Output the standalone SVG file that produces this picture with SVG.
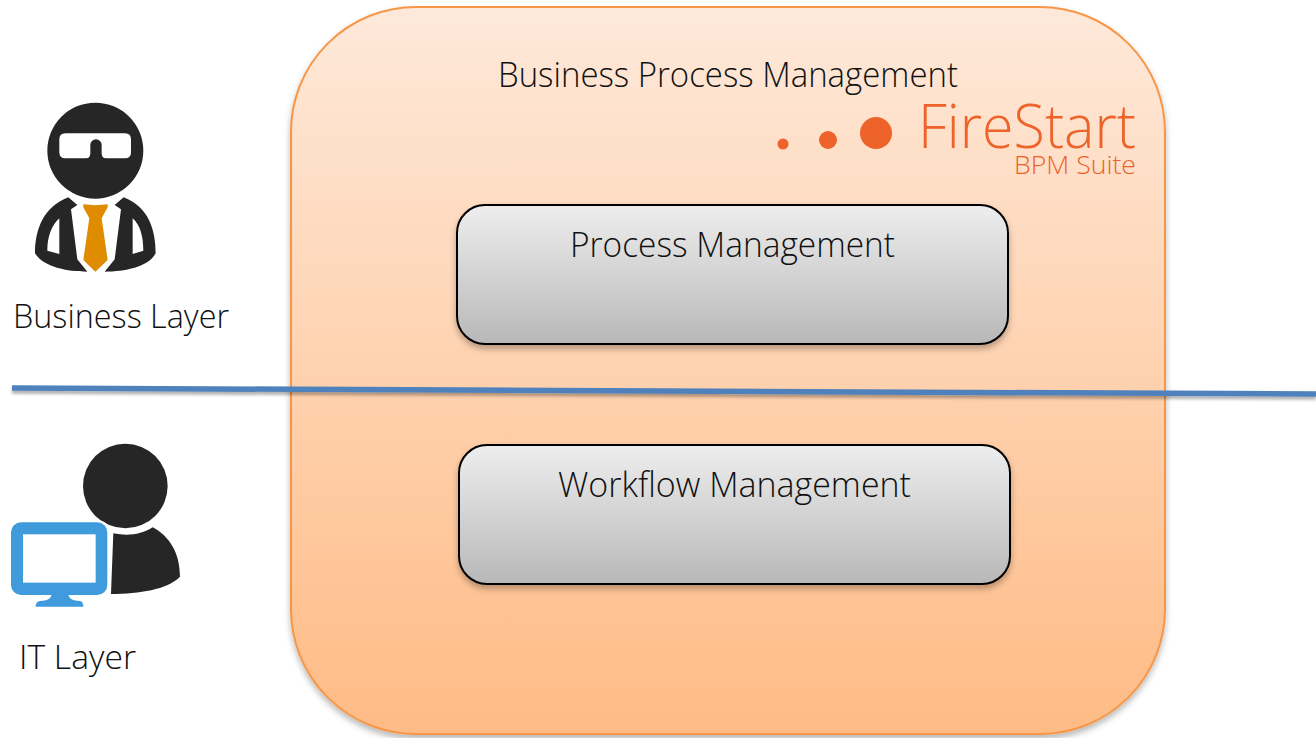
<svg xmlns="http://www.w3.org/2000/svg" width="1316" height="738" viewBox="0 0 1316 738">
<style>
text{font-family:"Open Sans","Noto Sans","Liberation Sans",sans-serif;font-weight:300;fill:#111}
.box{stroke:#000;stroke-width:2;fill:url(#g)}
.dark{fill:#262626}
.logo{fill:#ee6329}
</style>
<defs>
<linearGradient id="o" x1="0" y1="0" x2="0" y2="1"><stop offset="0" stop-color="#fee9da"/><stop offset="1" stop-color="#ffbb85"/></linearGradient>
<linearGradient id="g" x1="0" y1="0" x2="0" y2="1"><stop offset="0" stop-color="#eeeeee"/><stop offset="1" stop-color="#b8b8b8"/></linearGradient>
<filter id="s" x="-10%" y="-10%" width="120%" height="125%"><feDropShadow dx="0" dy="4" stdDeviation="3" flood-color="#000" flood-opacity=".28"/></filter>
<filter id="s2" x="-1%" y="-200%" width="102%" height="500%"><feDropShadow dx="0" dy="3" stdDeviation="1.5" flood-color="#000" flood-opacity=".3"/></filter>
</defs>
<rect width="1316" height="738" fill="#fff"/>
<g id="bpm">
<rect x="291" y="7" width="874" height="727" rx="125" fill="url(#o)" stroke="#f79646" stroke-width="2" filter="url(#s)"/>
<text x="498" y="87" font-size="35" textLength="460" lengthAdjust="spacingAndGlyphs">Business Process Management</text>
</g>
<g id="logo">
<circle class="logo" cx="783" cy="144" r="5.5"/>
<circle class="logo" cx="828" cy="140" r="9"/>
<circle class="logo" cx="876" cy="133" r="16"/>
<text x="918" y="148" font-size="60" textLength="218" lengthAdjust="spacingAndGlyphs" style="fill:#ee6329">FireStart</text>
<text x="1014" y="174" font-size="26" textLength="122" lengthAdjust="spacingAndGlyphs" style="fill:#ee6329">BPM Suite</text>
</g>
<g id="process-management">
<rect class="box" x="457" y="205" width="551" height="139" rx="28" filter="url(#s)"/>
<text x="570" y="257" font-size="35" textLength="325" lengthAdjust="spacingAndGlyphs">Process Management</text>
</g>
<g id="workflow-management">
<rect class="box" x="459" y="445" width="551" height="139" rx="28" filter="url(#s)"/>
<text x="558" y="497" font-size="35" textLength="353" lengthAdjust="spacingAndGlyphs">Workflow Management</text>
</g>
<g id="connectors">
<path d="M12 388L1316 394" stroke="#4f81bd" stroke-width="5.5" fill="none" filter="url(#s2)"/>
</g>
<g id="business-layer">
<g transform="translate(0 90) scale(.3333)">
<path class="dark" fill-rule="evenodd" d="M286 38A144 144 0 1 0 286 326A144 144 0 1 0 286 38ZM196 130H375Q393 130 393 148V187Q393 205 375 205H318Q305 205 305 190V165A17 17 0 0 0 271 165V190Q271 205 258 205H196Q178 205 178 187V148Q178 130 196 130Z"/>
<path class="dark" fill-rule="evenodd" d="M205 322L232 345L213 358L232 508L262 545C200 545 130 530 105 490C105 420 130 350 205 322ZM178 385C155 405 142 440 142 482L178 492Z"/>
<path class="dark" fill-rule="evenodd" d="M371 322L344 345L363 358L344 508L314 545C376 545 446 530 467 490C467 420 446 350 371 322ZM398 385C421 405 430 440 430 482L398 492Z"/>
<path fill="#df8c00" d="M250 343Q286 348 323 343V352L305 385L323 510L286 545L250 510L268 385L250 352Z"/>
</g>
<text x="13" y="328" font-size="33" textLength="216" lengthAdjust="spacingAndGlyphs">Business Layer</text>
</g>
<g id="it-layer">
<g transform="translate(0 430) scale(.3333)">
<circle class="dark" cx="376" cy="168" r="127"/>
<path class="dark" d="M458 292C510 320 540 370 540 440C500 480 420 490 333 492L340 310C380 318 425 315 458 292Z"/>
<rect x="33" y="277" width="289" height="218" rx="30" fill="#3f9bdc" stroke="#fff" stroke-width="14" paint-order="stroke"/>
<rect x="69" y="313" width="218" height="145" fill="#fff"/>
<path fill="#3f9bdc" d="M155 490H205C205 508 220 512 240 513Q250 515 250 530H107Q107 515 120 513C140 512 155 508 155 490Z"/>
</g>
<text x="19" y="669" font-size="33" textLength="117" lengthAdjust="spacingAndGlyphs">IT Layer</text>
</g>
</svg>
